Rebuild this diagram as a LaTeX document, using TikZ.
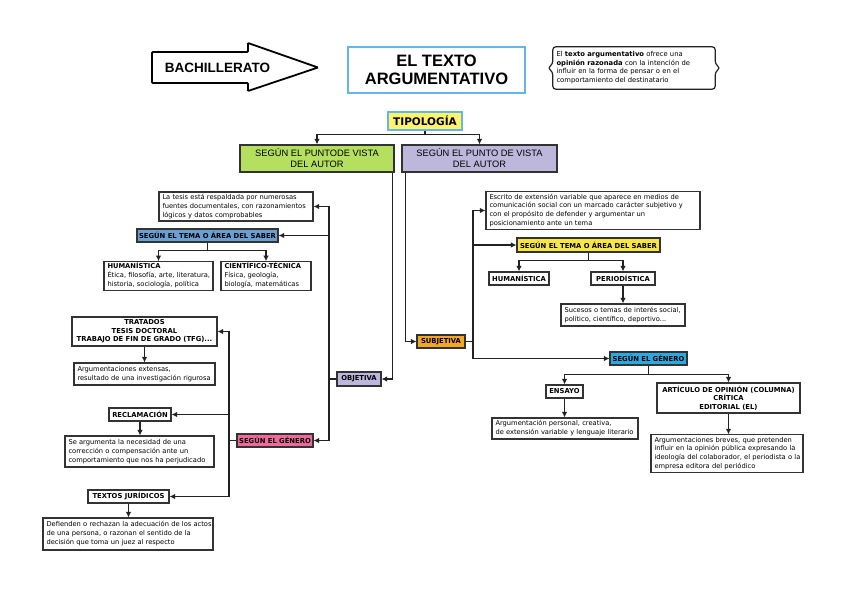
\documentclass[tikz,border=0pt]{standalone}
\usepackage{fontspec}
\setmainfont{DejaVu Sans}
\newfontfamily\arialf{Liberation Sans}
\usetikzlibrary{arrows.meta,calc}

\definecolor{cgreen}{HTML}{B5DF5F}
\definecolor{clav}{HTML}{BDB7DC}
\definecolor{csteel}{HTML}{6A9FD3}
\definecolor{cpink}{HTML}{F0699C}
\definecolor{corange}{HTML}{F5A623}
\definecolor{cyelR}{HTML}{F7E644}
\definecolor{cyelT}{HTML}{FFF36B}
\definecolor{cblue}{HTML}{2BAAE1}
\definecolor{cline}{HTML}{222222}
\definecolor{cbord}{HTML}{333333}
\definecolor{ctitle}{HTML}{66B5E8}

\newcommand\mylines[1]{\begin{tabular}{@{}l@{}}#1\end{tabular}}

% description box: style, name, left, top, right, bottom, text
\newcommand\descbox[7]{%
  \pgfmathsetmacro\mybw{#5-#3}\pgfmathsetmacro\mybh{#6-#4}%
  \pgfmathsetmacro\mybx{(#3+#5)/2}\pgfmathsetmacro\myby{(#4+#6)/2}%
  \pgfmathsetmacro\mytw{#5-#3-7}%
  \node[#1, minimum width=\mybw pt, minimum height=\mybh pt, text width=\mytw pt] (#2) at (\mybx,\myby) {\mylines{#7}};}
% label box (centered)
\newcommand\lblbox[7]{%
  \pgfmathsetmacro\mybw{#5-#3}\pgfmathsetmacro\mybh{#6-#4}%
  \pgfmathsetmacro\mybx{(#3+#5)/2}\pgfmathsetmacro\myby{(#4+#6)/2}%
  \node[#1, minimum width=\mybw pt, minimum height=\mybh pt] (#2) at (\mybx,\myby) {#7};}

\tikzset{
  base/.style={draw=cbord, line width=1.15pt, inner xsep=2pt, inner ysep=1pt},
  desc/.style={base, fill=white, align=left, inner xsep=3pt,
    font=\fontsize{6.7}{8.8}\selectfont},
  lbl/.style={base, fill=white, align=center,
    font=\bfseries\fontsize{6.8}{8.6}\selectfont},
  headbox/.style={base, align=center, font=\arialf\fontsize{9.3}{11}\selectfont},
  conn/.style={draw=cline, line width=1.5pt, -{Latex[length=5.5pt,width=5.5pt]}},
  plain/.style={draw=cline, line width=1.5pt},
}

\begin{document}
\begin{tikzpicture}[x=1pt,y=-1pt]
\useasboundingbox[fill=white] (0,0) rectangle (848,591);

% BACHILLERATO arrow
\draw[line width=1.8pt, line join=miter, rounded corners=0.8pt]
  (152,52) -- (248,52) -- (248,43) -- (318,67.5) -- (248,91) -- (248,83) -- (152,83) -- cycle;
\node[font=\arialf\bfseries\fontsize{13.5}{15}\selectfont] (bach) at (217.5,68) {BACHILLERATO};

% title
\lblbox{draw=ctitle, line width=1.5pt, fill=white, align=center,
  font=\arialf\bfseries\fontsize{16.5}{18.5}\selectfont}{title}{348}{47}{525}{93}{EL TEXTO\\ARGUMENTATIVO}

% brace box
\descbox{align=left, inner xsep=3pt, inner ysep=1pt,
  font=\fontsize{6.8}{8.5}\selectfont}{brace}{553}{47}{715}{89}{El \textbf{texto argumentativo} ofrece una\\\textbf{opinión razonada} con la intención de\\influir en la forma de pensar o en el\\comportamiento del destinatario}
\draw[draw=cline, line width=1.2pt, rounded corners=3pt]
  (brace.north west) -- (brace.north east) -- ([yshift=4pt]brace.east)
  -- ([xshift=5pt]brace.east) -- ([yshift=-4pt]brace.east)
  -- (brace.south east) -- (brace.south west) -- ([yshift=-4pt]brace.west)
  -- ([xshift=-5pt]brace.west) -- ([yshift=4pt]brace.west) -- cycle;

% tipologia
\lblbox{draw=ctitle, line width=1.3pt, fill=cyelT, inner sep=1pt,
  font=\bfseries\fontsize{10.5}{12}\selectfont}{tipo}{388}{112}{462}{130}{TIPOLOGÍA}

\lblbox{headbox, fill=cgreen}{green}{240}{145}{394}{172}{SEGÚN EL PUNTODE VISTA\\DEL AUTOR}
\lblbox{headbox, fill=clav}{purple}{402}{145}{557}{172}{SEGÚN EL PUNTO DE VISTA\\DEL AUTOR}

% ----- left branch
\descbox{desc}{tesis}{159}{192}{313}{221}{La tesis está respaldada por numerosas\\fuentes documentales, con razonamientos\\lógicos y datos comprobables}
\lblbox{lbl, fill=csteel}{temaL}{137}{229}{278}{242}{SEGÚN EL TEMA O ÁREA DEL SABER}
\descbox{desc}{hum}{104}{262}{213}{290}{\textbf{HUMANÍSTICA}\\Ética, filosofía, arte, literatura,\\historia, sociología, política}
\descbox{desc}{cien}{221}{262}{311}{290}{\textbf{CIENTÍFICO-TÉCNICA}\\Física, geología,\\biología, matemáticas}
\lblbox{lbl, fill=clav}{objetiva}{337}{372}{381}{386}{OBJETIVA}
\lblbox{lbl, fill=cpink}{generoL}{237}{434}{313}{447}{SEGÚN EL GÉNERO}
\lblbox{lbl}{tratados}{72}{317}{217}{346}{TRATADOS\\TESIS DOCTORAL\\TRABAJO DE FIN DE GRADO (TFG)...}
\descbox{desc}{extensas}{74}{363}{215}{385}{Argumentaciones extensas,\\resultado de una investigación rigurosa}
\lblbox{lbl}{recla}{109}{408}{171}{421}{RECLAMACIÓN}
\descbox{desc}{seargu}{65}{436}{214}{467}{Se argumenta la necesidad de una\\corrección o compensación ante un\\comportamiento que nos ha perjudicado}
\lblbox{lbl}{juridicos}{88}{490}{169}{503}{TEXTOS JURÍDICOS}
\descbox{desc}{defienden}{43}{518}{213}{550}{Defienden o rechazan la adecuación de los actos\\de una persona, o razonan el sentido de la\\decisión que toma un juez al respecto}

% ----- right branch
\lblbox{lbl, fill=corange}{subjetiva}{417}{335}{465}{348}{SUBJETIVA}
\descbox{desc}{escrito}{486}{192}{700}{229}{Escrito de extensión variable que aparece en medios de\\comunicación social con un marcado carácter subjetivo y\\con el propósito de defender y argumentar un\\posicionamiento ante un tema}
\lblbox{lbl, fill=cyelR}{temaR}{517}{238}{660}{252}{SEGÚN EL TEMA O ÁREA DEL SABER}
\lblbox{lbl}{hum2}{489}{272}{549}{285}{HUMANÍSTICA}
\lblbox{lbl}{perio}{591}{272}{655}{285}{PERIODÍSTICA}
\descbox{desc}{sucesos}{561}{304}{685}{326}{Sucesos o temas de interés social,\\político, científico, deportivo...}
\lblbox{lbl, fill=cblue}{generoR}{610}{352}{687}{365}{SEGÚN EL GÉNERO}
\lblbox{lbl}{ensayo}{546}{385}{583}{398}{ENSAYO}
\lblbox{lbl}{articulo}{657}{383}{800}{413}{ARTÍCULO DE OPINIÓN (COLUMNA)\\CRÍTICA\\EDITORIAL (EL)}
\descbox{desc}{argpers}{492}{418}{638}{439}{Argumentación personal, creativa,\\de extensión variable y lenguaje literario}
\descbox{desc}{argbrev}{651}{435}{803}{472}{Argumentaciones breves, que pretenden\\influir en la opinión pública expresando la\\ideología del colaborador, el periodista o la\\empresa editora del periódico}

% ----- connectors
\draw[conn] (tipo.south) -- ++(0,4) -| (green.north);
\draw[conn] (tipo.south) -- ++(0,4) -| (purple.north);

\draw[conn] ([xshift=-2pt]green.south east) |- (objetiva.east);
\coordinate (vL) at (329,379);
\draw[plain] (objetiva.west) -- (vL);
\draw[conn] (vL) |- (tesis.east);
\draw[conn] (vL) |- (temaL.east);
\draw[conn] (vL) |- (generoL.east);
\draw[conn] (temaL.south) -- ++(0,8) -| (hum.north);
\draw[conn] (temaL.south) -- ++(0,8) -| (cien.north);

\coordinate (vG) at (229,440.5);
\draw[plain] (generoL.west) -- (vG);
\draw[conn] (vG) |- (tratados.east);
\draw[conn] (vG) |- (recla.east);
\draw[conn] (vG) |- (juridicos.east);
\draw[conn] (tratados.south) -- (tratados.south |- extensas.north);
\draw[conn] (recla.south) -- (recla.south |- seargu.north);
\draw[conn] (juridicos.south) -- (juridicos.south |- defienden.north);

\draw[conn] ([xshift=4pt]purple.south west) |- (subjetiva.west);
\coordinate (vR) at (473,341.5);
\draw[plain] (subjetiva.east) -- (vR);
\draw[conn] (vR) |- (escrito.west);
\draw[conn] (vR) |- (temaR.west);
\draw[conn] (vR) |- (generoR.west);
\draw[conn] (temaR.south) -- ++(0,8) -| (hum2.north);
\draw[conn] (temaR.south) -- ++(0,8) -| (perio.north);
\draw[conn] (perio.south) -- (perio.south |- sucesos.north);
\draw[conn] (generoR.south) -- ++(0,9) -| (ensayo.north);
\draw[conn] (generoR.south) -- ++(0,9) -| (articulo.north);
\draw[conn] (ensayo.south) -- (ensayo.south |- argpers.north);
\draw[conn] (articulo.south) -- (articulo.south |- argbrev.north);
\end{tikzpicture}
\end{document}
